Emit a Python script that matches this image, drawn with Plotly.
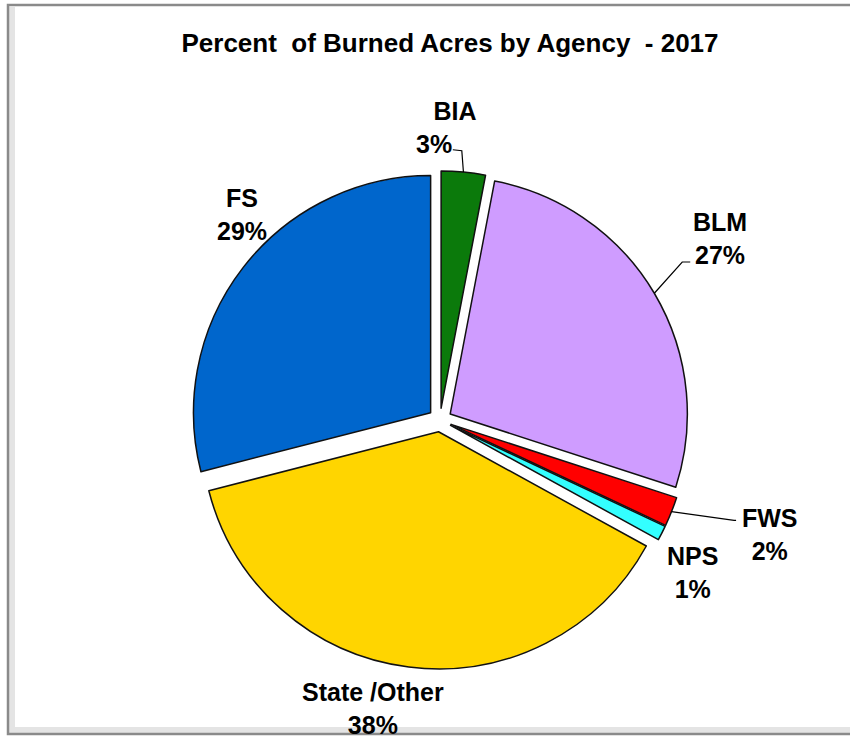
import math
import plotly.graph_objects as go

agencies = ["BIA", "BLM", "FWS", "NPS", "State /Other", "FS"]
percents = [3, 27, 2, 1, 38, 29]
colors = ["#0B7A0B", "#CF9CFF", "#FF0000", "#33FFFF", "#FFD500", "#0066CC"]

W, H = 850, 740
FONT = "Liberation Sans, Arial, sans-serif"
PULL = 0.05

# pie box (pixels) -> domain
CX, CY, HALF = 440, 420, 249
dom_x = [(CX - HALF) / W, (CX + HALF) / W]
dom_y = [1 - (CY + HALF) / H, 1 - (CY - HALF) / H]
R = HALF / (1 + PULL)

fig = go.Figure(go.Pie(
    labels=agencies,
    values=percents,
    sort=False,
    direction="clockwise",
    rotation=0,
    pull=[PULL] * len(agencies),
    marker=dict(colors=colors, line=dict(color="#111111", width=1.5)),
    textinfo="none",
    domain=dict(x=dom_x, y=dom_y),
    showlegend=False,
    hoverinfo="label+percent",
))

# label placement: (angle offset from slice middle [deg], distance in radii)
label_place = {
    "BIA": (-2.5, 1.234),
    "BLM": (-2.4, 1.409),
    "FWS": (-2.5, 1.473),
    "NPS": (4.1, 1.242),
    "State /Other": (5.9, 1.248),
    "FS": (8.2, 1.203),
}
# extra trailing padding on the percent line (shifts it left like the original)
pct_pad = {"BIA": 6}
# leader lines: (elbow offset, end offset) relative to label centre, pixels
leaders = {
    "BIA": ((7, 23), (-2, 22)),
    "BLM": ((-38, 24), (-30, 24)),
    "FWS": ((-36, -14), (-34, -14)),
}

def to_paper(x, y):
    return x / W, 1 - y / H

total = sum(percents)
annotations = []
shapes = []
cum = 0.0
for name, v in zip(agencies, percents):
    mid = (cum + v / 2) / total * 360
    cum += v
    off, dist = label_place[name]
    a = math.radians(mid + off)
    lx = CX + dist * R * math.sin(a)
    ly = CY - dist * R * math.cos(a)
    px, py = to_paper(lx, ly)
    pct = round(v / total * 100)
    pad = "\u00a0" * pct_pad.get(name, 0)
    annotations.append(dict(
        x=px, y=py, xref="paper", yref="paper", showarrow=False,
        text=f"<b>{name}<br>{pct}%{pad}</b>", align="center",
        xanchor="center", yanchor="middle",
        font=dict(family=FONT, size=25, color="black"),
    ))
    if name in leaders:
        am = math.radians(mid)
        ex = CX + R * (1 + PULL) * math.sin(am)
        ey = CY - R * (1 + PULL) * math.cos(am)
        (bx, by), (tx, ty) = leaders[name]
        p0 = to_paper(ex, ey)
        p1 = to_paper(lx + bx, ly + by)
        p2 = to_paper(lx + tx, ly + ty)
        shapes.append(dict(
            type="path", xref="paper", yref="paper",
            path=f"M {p0[0]} {p0[1]} L {p1[0]} {p1[1]} L {p2[0]} {p2[1]}",
            line=dict(color="black", width=1.2),
        ))

# chart frame with soft inner shadow (left and bottom)
shapes += [
    dict(type="line", xref="paper", yref="paper",
         x0=12 / W, x1=12 / W, y0=1 - 731 / H, y1=1 - 7 / H,
         line=dict(color="#E4E4E4", width=6), layer="below"),
    dict(type="line", xref="paper", yref="paper",
         x0=9 / W, x1=1.01, y0=1 - 730 / H, y1=1 - 730 / H,
         line=dict(color="#E4E4E4", width=6), layer="below"),
    dict(type="rect", xref="paper", yref="paper",
         x0=8 / W, x1=1.01, y0=1 - 734 / H, y1=1 - 5 / H,
         line=dict(color="#8A8A8A", width=2.5), fillcolor="rgba(0,0,0,0)", layer="below"),
]

fig.update_layout(
    width=W, height=H,
    margin=dict(l=0, r=0, t=0, b=0),
    paper_bgcolor="white",
    plot_bgcolor="white",
    title=dict(
        text="<b>Percent\u00a0 of Burned Acres by Agency\u00a0 - 2017</b>",
        x=450 / W, xanchor="center",
        y=1 - 43 / H, yanchor="middle",
        font=dict(family=FONT, size=26, color="black"),
    ),
    annotations=annotations,
    shapes=shapes,
)

fig.write_html("out.html", config={"displayModeBar": False},
               post_script="document.body.style.margin='0';")
